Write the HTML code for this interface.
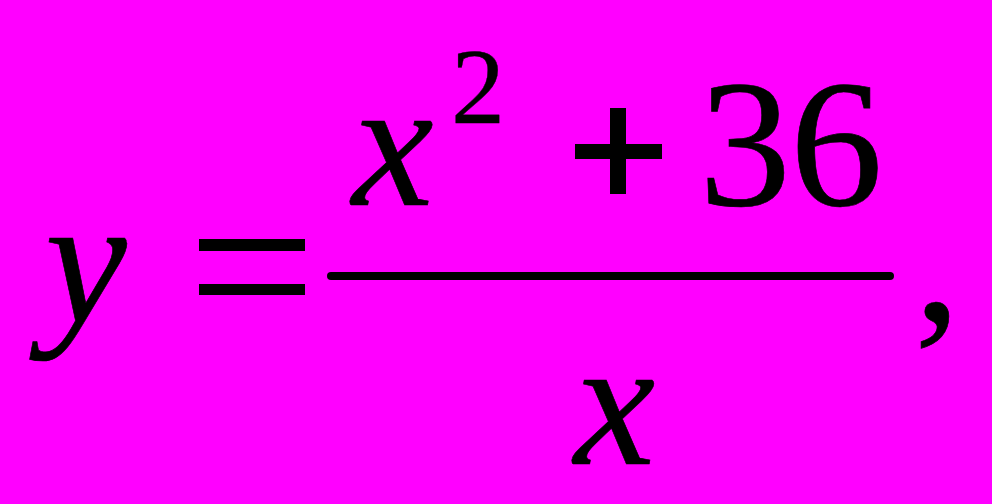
<!DOCTYPE html>
<html><head><meta charset="utf-8"><style>
html,body{margin:0;padding:0;}
body{width:992px;height:504px;background:#ff00ff;position:relative;overflow:hidden;}
.g{position:absolute;font-family:"Liberation Serif",serif;font-size:200px;line-height:200px;color:#000;transform-origin:0 0;white-space:pre;-webkit-text-stroke:0.7px #000;}
.r{position:absolute;background:#000;}
</style></head><body>
<div class="r" style="left:198.8px;top:238.8px;width:105.8px;height:12px"></div>
<div class="r" style="left:198.8px;top:283.8px;width:105.8px;height:11px"></div>
<div class="r" style="left:327.1px;top:271.8px;width:566.9px;height:8.4px;border-radius:4.2px"></div>
<div class="r" style="left:610.3px;top:108.2px;width:15.4px;height:86.2px"></div>
<div class="r" style="left:575px;top:143.5px;width:86.6px;height:15.1px"></div>
<span class="g" style="left:44.81px;top:169.62px;font-style:italic;transform:scale(0.9222,0.9111)">y</span>
<span class="g" style="left:351.80px;top:52.69px;font-style:italic;transform:scale(0.9185,0.9129)">x</span>
<span class="g" style="left:450.99px;top:32.66px;font-style:normal;transform:scale(0.5411,0.5397)">2</span>
<span class="g" style="left:698.76px;top:53.20px;font-style:normal;transform:scale(0.9213,0.9115)">3</span>
<span class="g" style="left:790.21px;top:52.92px;font-style:normal;transform:scale(0.9286,0.9107)">6</span>
<span class="g" style="left:574.10px;top:311.32px;font-style:italic;transform:scale(0.9152,0.9150)">x</span>
<span class="g" style="left:914.41px;top:169.59px;font-style:normal;transform:scale(0.9329,0.9047)">,</span>
</body></html>
